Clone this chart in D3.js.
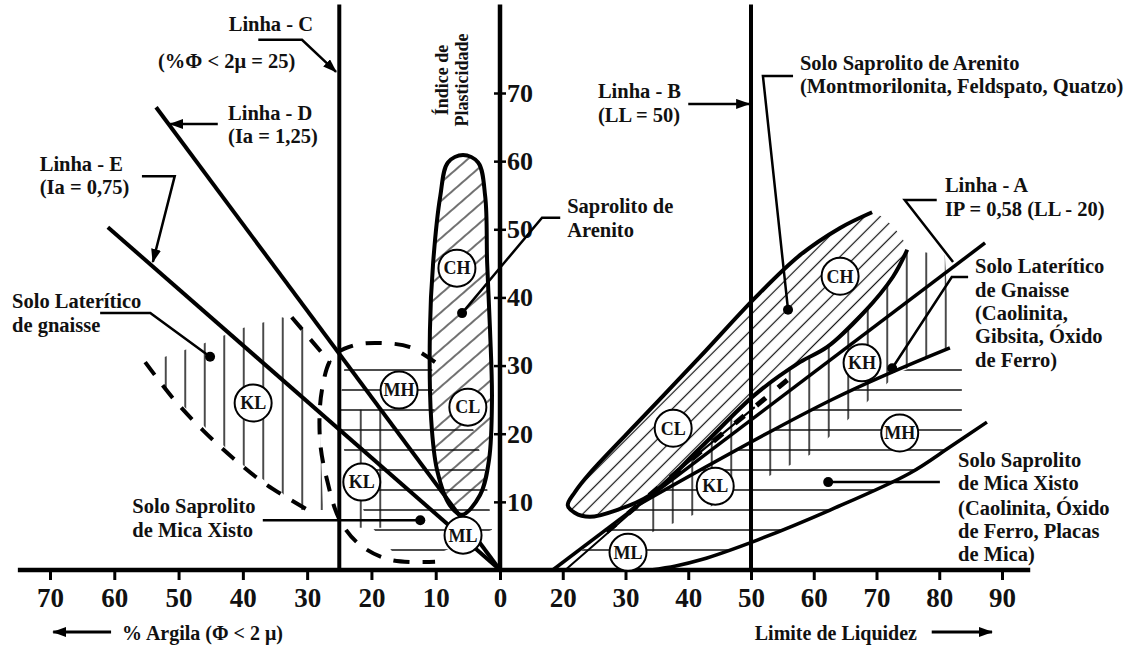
<!DOCTYPE html>
<html>
<head>
<meta charset="utf-8">
<script src="https://cdn.jsdelivr.net/npm/d3@7"></script>
<style>
  body { margin: 0; background: #fff; }
  text { font-family: "Liberation Serif", "Times New Roman", serif; font-weight: bold; fill: #111; }
</style>
</head>
<body>
<div id="chart"></div>
<script>
// Carta de plasticidade - solos tropicais (argila % à esquerda, LL à direita)

const clayTicks = [70, 60, 50, 40, 30, 20, 10, 0];
const llTicks = [20, 30, 40, 50, 60, 70, 80, 90];
const ipTicks = [10, 20, 30, 40, 50, 60, 70];

// reference lines, left side in [argila %, IP], right side in [LL, IP]
const linhaC = [[25, 0], [25, 83]];
const linhaD = [[53.5, 67.9], [0, 0]];
const linhaE = [[61, 50.3], [0, 0]];
const linhaB = [[50, 0], [50, 83]];
const linhaA = [[18.4, 0], [87.3, 48]];
const eixoIP = [[0, 0], [0, 83]];

// left side regions [argila %, IP]
const arenitoL = [[5.75, 60.9], [3.4, 59.8], [2.3, 54.8], [2.0, 45.1], [1.55, 35.2], [1.25, 25.0], [1.7, 16.2],
  [3.1, 11.0], [5.9, 8.1], [7.8, 9.5], [9.8, 14.7], [10.7, 22.0], [10.9, 35.2], [10.4, 45.1], [9.3, 54.8], [8.1, 59.8]];
const lateriteL = [[54.4, 30.8], [52.1, 31.3], [45.9, 33.3], [40.0, 35.5], [33.9, 37.1], [31.1, 36.2], [28.5, 32.0],
  [27.5, 8.8], [31.1, 8.8], [33.9, 11.3], [40.0, 15.4], [45.9, 21.0], [52.1, 26.7], [54.4, 28.9]];
const lateriteL2 = [[23.6, 23.5], [16.3, 23.5], [15.9, 6.2], [23.6, 6.2]];
const lateriteLowL = [[55.2, 30.5], [50.6, 24.9], [46.2, 20.5], [41.5, 16.4], [36.6, 12.7], [29.9, 8.8]];
const lateriteTopL = [[32.4, 37.1], [26.4, 30.4]];
const micaL = [[24.1, 30.5], [10.6, 30.5], [10.1, 22.0], [4.36, 21.3], [2.33, 14.7], [1.24, 5.9], [10.1, 2.2],
  [15.9, 1.76], [20.2, 6.6], [23.3, 13.2], [25.2, 22.0]];
const micaOvalL = [[10.1, 30.5], [14.0, 32.7], [18.2, 33.3], [22.6, 33.0], [26.0, 31.3], [27.7, 26.4], [28.0, 19.1],
  [26.9, 13.2], [24.9, 7.3], [21.8, 3.7], [17.1, 1.5], [10.1, 1.2]];

// right side regions [LL, IP]
const arenitoR = [[74.9, 47.0], [72.6, 43.0], [67.9, 37.7], [62.1, 32.7], [57.8, 30.5], [50.6, 25.7], [41.9, 17.9],
  [33.9, 11.0], [28.6, 8.8], [24.3, 7.8], [21.9, 8.4], [20.8, 9.5], [21.95, 11.45], [24.3, 14.2], [33.1, 22.75],
  [41.9, 31.3], [50.6, 39.9], [57.8, 46.2], [64.2, 50.2], [69.3, 52.5]];
const lineBLow = [[20.4, 0], [25.9, 4.4], [33.9, 10.9], [41.9, 17.3], [50.6, 23.9]];
const lineBDash = [[27.0, 5.6], [41.9, 17.3], [57.0, 28.8]];
const lineKH = [[32.3, 9.7], [63.1, 25.1], [81.7, 32.6]];
const lineMicaBase = [[34, 0], [38, 0.6], [42, 1.5], [51, 4.4], [62.6, 8.8], [75.3, 14.2], [81.7, 18.05], [87.6, 21.7]];
const lateriteR = [[33.9, 11.0], [41.9, 17.9], [50.6, 25.7], [57.8, 30.5], [62.1, 32.7], [67.85, 37.7], [72.6, 43.0],
  [74.9, 47.0], [80.9, 46.2], [81.7, 32.6], [73.7, 29.1], [59.4, 16.9], [41.9, 8.5], [33.1, 5.1]];
const micaR = [[22.75, 2.64], [32.3, 9.7], [63.1, 25.1], [75.3, 29.6], [76.1, 32.0], [83.6, 32.0], [83.6, 19.1],
  [81.7, 18.05], [75.3, 14.2], [62.6, 8.8], [51.0, 4.3], [41.9, 1.5], [35.5, 0.3], [23.5, 1.0]];

// circled soil classes
const circlesL = [["KL", 38.4, 24.5], ["MH", 15.7, 26.4], ["CL", 5.0, 23.9], ["KL", 21.5, 12.9], ["ML", 5.75, 5.1], ["CH", 6.7, 44.3]];
const circlesR = [["CH", 64.2, 43.1], ["CL", 37.6, 20.8], ["KH", 67.7, 30.4], ["KL", 44.3, 12.3], ["MH", 73.7, 20.1], ["ML", 30.4, 2.6]];

// pointers [side, value, IP]
const pointers = [
  { pts: [["L", 37.6, 77.8], ["L", 30.8, 77.8], ["L", 25.5, 73.1]], end: "arrow" },
  { pts: [["L", 43.9, 65.45], ["L", 51.3, 65.45]], end: "arrow" },
  { pts: [["L", 55.7, 57.8], ["L", 50.6, 57.8], ["L", 54.0, 45.2]], end: "arrow" },
  { pts: [["R", 40.0, 68.4], ["R", 49.7, 68.4]], end: "arrow" },
  { pts: [["R", 79.6, 54.3], ["R", 74.5, 54.3], ["R", 82.2, 45.2]], end: "none" },
  { pts: [["L", 62.2, 37.7], ["L", 54.4, 37.7], ["L", 45.1, 31.3]], end: "dot" },
  { pts: [["R", 19.6, 51.7], ["R", 16.7, 51.7], ["L", 5.9, 37.7]], end: "dot" },
  { pts: [["L", 36.9, 7.3], ["L", 12.4, 7.3]], end: "dot" },
  { pts: [["R", 56.7, 72.5], ["R", 51.9, 72.5], ["R", 55.9, 38.2]], end: "dot" },
  { pts: [["R", 84.6, 43.0], ["R", 82.0, 43.0], ["R", 72.5, 29.6]], end: "dot" },
  { pts: [["R", 80.1, 12.9], ["R", 62.3, 12.9]], end: "dot" }
];

// annotation texts [side, value, IP, text]
const labels = [
  ["L", 42.2, 79.1, "Linha - C"],
  ["L", 53.2, 73.6, "(%\u03A6 < 2\u03BC = 25)"],
  ["L", 42.3, 66.0, "Linha - D"],
  ["L", 42.3, 62.7, "(Ia = 1,25)"],
  ["L", 71.6, 58.6, "Linha - E"],
  ["L", 71.6, 55.2, "(Ia = 0,75)"],
  ["L", 75.9, 38.5, "Solo Laterítico"],
  ["L", 75.9, 34.9, "de gnaisse"],
  ["L", 57.2, 8.4, "Solo Saprolito"],
  ["L", 57.2, 4.8, "de Mica Xisto"],
  ["R", 20.7, 52.4, "Saprolito de"],
  ["R", 20.7, 48.9, "Arenito"],
  ["R", 25.6, 69.3, "Linha - B"],
  ["R", 25.6, 65.7, "(LL = 50)"],
  ["R", 57.8, 73.4, "Solo Saprolito de Arenito"],
  ["R", 57.8, 70.0, "(Montmorilonita, Feldspato, Quatzo)"],
  ["R", 80.9, 55.4, "Linha - A"],
  ["R", 80.9, 51.9, "IP = 0,58 (LL - 20)"],
  ["R", 85.7, 43.6, "Solo Laterítico"],
  ["R", 85.7, 40.1, "de Gnaisse"],
  ["R", 85.7, 36.7, "(Caolinita,"],
  ["R", 85.7, 33.3, "Gibsita, Óxido"],
  ["R", 85.7, 29.8, "de Ferro)"],
  ["R", 83.0, 15.1, "Solo Saprolito"],
  ["R", 83.0, 11.7, "de Mica Xisto"],
  ["R", 83.0, 8.1, "(Caolinita, Óxido"],
  ["R", 83.0, 4.7, "de Ferro, Placas"],
  ["R", 83.0, 1.3, "de Mica)"]
];
const axisTitleIP = [["L", 8.1, 71.9, "Índice de"], ["L", 5.0, 71.9, "Plasticidade"]];
const axisTitles = [["L", 58.8, -10.3, "% Argila (\u03A6 < 2 \u03BC)"], ["R", 50.6, -10.3, "Limite de Liquidez"]];
const axisArrows = [[["L", 60.5, -9.1], ["L", 69.5, -9.1]], [["R", 78.8, -9.1], ["R", 88.4, -9.1]]];

const width = 1132;
const height = 648;

const svg = d3.select("#chart")
    .append("svg")
    .attr("width", width)
    .attr("height", height)
    .style("background", "#fff");

const xL = d3.scaleLinear().domain([0, 70]).range([500, 50]);
const xR = d3.scaleLinear().domain([10, 90]).range([500, 1002]);
const y = d3.scaleLinear().domain([0, 70]).range([570, 93]);

const px = (side, v) => side === "L" ? xL(v) : xR(v);
const lineOf = (side, curve = d3.curveLinear) => d3.line()
    .x(d => px(side, d[0]))
    .y(d => y(d[1]))
    .curve(curve);
const mixedLine = d3.line().x(d => px(d[0], d[1])).y(d => y(d[2]));

// hatch patterns and markers
const defs = svg.append("defs");
function hatch(id, size, angle, w) {
    const p = defs.append("pattern")
        .attr("id", id)
        .attr("patternUnits", "userSpaceOnUse")
        .attr("width", size)
        .attr("height", size)
        .attr("patternTransform", `rotate(${angle})`);
    p.append("line")
        .attr("x1", size / 2).attr("y1", -1)
        .attr("x2", size / 2).attr("y2", size + 1)
        .attr("stroke", "#111")
        .attr("stroke-width", w);
}
hatch("diagL", 14, 49, 1.2);
hatch("diagR", 11, 45, 1.2);
hatch("vert", 19.5, 0, 1.5);
hatch("horiz", 20, 90, 1.5);

defs.append("marker")
    .attr("id", "arrow")
    .attr("viewBox", "0 0 14 10")
    .attr("refX", 13).attr("refY", 5)
    .attr("markerWidth", 14).attr("markerHeight", 10)
    .attr("markerUnits", "userSpaceOnUse")
    .attr("orient", "auto")
    .append("path")
    .attr("d", "M0,0L14,5L0,10z")
    .attr("fill", "#000");

// hatched fills
const fills = [
    { side: "L", pts: lateriteL, pat: "vert", curve: d3.curveLinearClosed },
    { side: "L", pts: micaL, pat: "horiz", curve: d3.curveLinearClosed },
    { side: "L", pts: lateriteL2, pat: "vert", curve: d3.curveLinearClosed },
    { side: "L", pts: arenitoL, pat: "diagL", curve: d3.curveCatmullRomClosed },
    { side: "R", pts: micaR, pat: "horiz", curve: d3.curveLinearClosed },
    { side: "R", pts: lateriteR, pat: "vert", curve: d3.curveLinearClosed },
    { side: "R", pts: arenitoR, pat: "diagR", curve: d3.curveCatmullRomClosed }
];
svg.append("g").selectAll("path")
    .data(fills)
    .join("path")
    .attr("d", d => lineOf(d.side, d.curve)(d.pts))
    .attr("fill", d => `url(#${d.pat})`)
    .attr("stroke", "none");

// outlines and reference lines
const strokes = [
    { side: "L", pts: arenitoL, w: 4, curve: d3.curveCatmullRomClosed },
    { side: "R", pts: arenitoR, w: 4, curve: d3.curveCatmullRom },
    { side: "R", pts: lineBLow, w: 2, curve: d3.curveLinear },
    { side: "R", pts: lineKH, w: 3.5, curve: d3.curveCatmullRom },
    { side: "R", pts: lineMicaBase, w: 3.5, curve: d3.curveCatmullRom },
    { side: "R", pts: linhaA, w: 3.5, curve: d3.curveLinear },
    { side: "L", pts: linhaC, w: 4, curve: d3.curveLinear },
    { side: "L", pts: linhaD, w: 4, curve: d3.curveLinear },
    { side: "L", pts: linhaE, w: 4, curve: d3.curveLinear },
    { side: "R", pts: linhaB, w: 4, curve: d3.curveLinear },
    { side: "L", pts: eixoIP, w: 4.5, curve: d3.curveLinear }
];
svg.append("g").selectAll("path")
    .data(strokes)
    .join("path")
    .attr("d", d => lineOf(d.side, d.curve)(d.pts))
    .attr("fill", "none")
    .attr("stroke", "#000")
    .attr("stroke-width", d => d.w)
    .attr("stroke-linejoin", "round");

// dashed boundaries
const dashed = [
    { side: "L", pts: lateriteLowL, curve: d3.curveCatmullRom, w: 4, dash: "16,13" },
    { side: "L", pts: lateriteTopL, curve: d3.curveLinear, w: 4, dash: "16,13" },
    { side: "L", pts: micaOvalL, curve: d3.curveCatmullRom, w: 4, dash: "16,13" },
    { side: "R", pts: lineBDash, curve: d3.curveLinear, w: 5, dash: "12,16" }
];
svg.append("g").selectAll("path")
    .data(dashed)
    .join("path")
    .attr("d", d => lineOf(d.side, d.curve)(d.pts))
    .attr("fill", "none")
    .attr("stroke", "#000")
    .attr("stroke-width", d => d.w)
    .attr("stroke-dasharray", d => d.dash);

// horizontal axis line
svg.append("line")
    .attr("x1", xL(75)).attr("x2", xR(94.5))
    .attr("y1", y(0)).attr("y2", y(0))
    .attr("stroke", "#000")
    .attr("stroke-width", 4.5);

// bottom axes
const bottomLeft = svg.append("g")
    .attr("transform", `translate(0, ${y(0)})`)
    .call(d3.axisBottom(xL).tickValues(clayTicks).tickSize(10).tickPadding(8).tickFormat(d3.format("d")));
const bottomRight = svg.append("g")
    .attr("transform", `translate(0, ${y(0)})`)
    .call(d3.axisBottom(xR).tickValues(llTicks).tickSize(10).tickPadding(8).tickFormat(d3.format("d")));
[bottomLeft, bottomRight].forEach(g => {
    g.select(".domain").remove();
    g.selectAll(".tick line").attr("stroke", "#000").attr("stroke-width", 3);
    g.selectAll(".tick text").attr("font-size", 27).attr("fill", "#111")
        .style("font-family", "\"Liberation Serif\", \"Times New Roman\", serif").style("font-weight", "bold");
});

// vertical IP axis
const leftAxis = svg.append("g")
    .attr("transform", `translate(${xL(0)}, 0)`)
    .call(d3.axisRight(y).tickValues(ipTicks).tickSize(6).tickPadding(1).tickFormat(d3.format("d")));
leftAxis.select(".domain").remove();
leftAxis.selectAll(".tick line").attr("x1", -6).attr("stroke", "#000").attr("stroke-width", 2.5);
leftAxis.selectAll(".tick text").attr("font-size", 26).attr("fill", "#111")
    .style("font-family", "\"Liberation Serif\", \"Times New Roman\", serif").style("font-weight", "bold");

// pointers
svg.append("g").selectAll("path")
    .data(pointers)
    .join("path")
    .attr("d", d => mixedLine(d.pts))
    .attr("fill", "none")
    .attr("stroke", "#000")
    .attr("stroke-width", 2.5)
    .attr("marker-end", d => d.end === "arrow" ? "url(#arrow)" : null);
svg.append("g").selectAll("circle")
    .data(pointers.filter(d => d.end === "dot"))
    .join("circle")
    .attr("cx", d => { const p = d.pts[d.pts.length - 1]; return px(p[0], p[1]); })
    .attr("cy", d => y(d.pts[d.pts.length - 1][2]))
    .attr("r", 5)
    .attr("fill", "#000");

// circled classes
const circles = circlesL.map(d => ["L", ...d]).concat(circlesR.map(d => ["R", ...d]));
const cg = svg.append("g").selectAll("g")
    .data(circles)
    .join("g")
    .attr("transform", d => `translate(${px(d[0], d[2])}, ${y(d[3])})`);
cg.append("circle")
    .attr("r", 18.5)
    .attr("fill", "#fff")
    .attr("stroke", "#000")
    .attr("stroke-width", 2);
cg.append("text")
    .attr("text-anchor", "middle")
    .attr("dy", "0.35em")
    .attr("font-size", 18)
    .text(d => d[1]);

// annotation texts
svg.append("g").selectAll("text")
    .data(labels)
    .join("text")
    .attr("x", d => px(d[0], d[1]))
    .attr("y", d => y(d[2]))
    .attr("font-size", 20.5)
    .text(d => d[3]);

svg.append("g").selectAll("text")
    .data(axisTitleIP)
    .join("text")
    .attr("transform", d => `translate(${px(d[0], d[1])}, ${y(d[2])}) rotate(-90)`)
    .attr("text-anchor", "middle")
    .attr("font-size", 18)
    .text(d => d[3]);

svg.append("g").selectAll("text")
    .data(axisTitles)
    .join("text")
    .attr("x", d => px(d[0], d[1]))
    .attr("y", d => y(d[2]))
    .attr("font-size", 20)
    .text(d => d[3]);

svg.append("g").selectAll("path")
    .data(axisArrows)
    .join("path")
    .attr("d", d => mixedLine(d))
    .attr("stroke", "#000")
    .attr("stroke-width", 3)
    .attr("marker-end", "url(#arrow)");
</script>
</body>
</html>
